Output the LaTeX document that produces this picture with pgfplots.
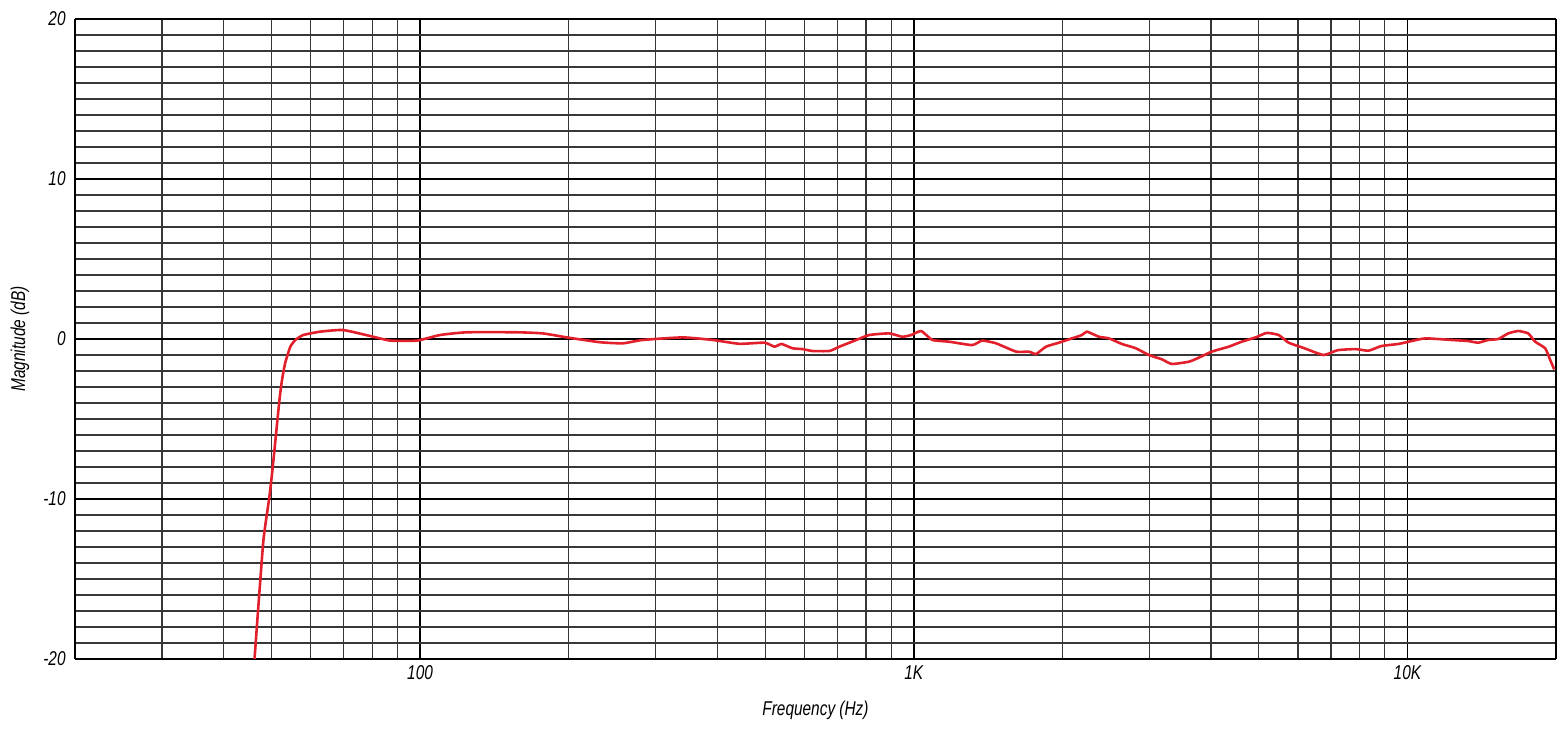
\documentclass[border=0pt]{standalone}
\usepackage{fontspec}
\setmainfont{Liberation Sans}[FakeStretch=0.77]
\usepackage{pgfplots}
\pgfplotsset{compat=1.18}
\definecolor{curvered}{RGB}{226,32,44}
\definecolor{minorgrid}{RGB}{55,55,55}

\pgfplotstableread{
f      db
46.2   -20
48.1   -12.75
49.5   -9.9
50.3   -8
51.9   -3.8
52.5   -2.6
53.3   -1.5
54.6   -0.48
55.9   -0.06
58.0   0.25
62.8   0.46
69.9   0.56
80.4   0.14
87.0   -0.1
98.6   -0.1
109.8  0.25
124.5  0.42
157.1  0.42
177.3  0.35
198.3  0.1
231.2  -0.2
257.4  -0.27
282.5  -0.06
340.3  0.1
391.3  -0.06
443.7  -0.3
498.5  -0.23
522.3  -0.48
539.7  -0.31
568.0  -0.58
595.0  -0.63
623.4  -0.75
674.8  -0.75
707.0  -0.48
765.1  -0.06
812.8  0.25
892.0  0.35
947.8  0.14
988.3  0.25
1035.6 0.5
1090   -0.06
1180   -0.17
1313   -0.38
1376   -0.1
1468   -0.27
1612   -0.79
1712   -0.79
1769   -0.94
1853   -0.48
1969   -0.23
2092   0.04
2191   0.25
2243   0.46
2372   0.14
2485   0.04
2640   -0.31
2818   -0.58
2994   -1.0
3181   -1.27
3333   -1.56
3607   -1.42
3779   -1.17
4014   -0.79
4345   -0.48
4616   -0.17
4927   0.1
5187   0.38
5484   0.25
5746   -0.23
6162   -0.56
6763   -1.0
7218   -0.7
7852   -0.63
8341   -0.73
8859   -0.44
9590   -0.31
10188  -0.13
10875  0.04
12274  -0.06
13288  -0.13
13918  -0.23
14582  -0.06
15276  0.0
16004  0.35
16768  0.5
17567  0.35
18148  -0.17
19017  -0.58
19466  -1.31
19834  -1.9
}\response

\begin{document}
\begin{tikzpicture}
\begin{axis}[
  scale only axis,
  width=740.5pt, height=320pt,
  xmode=log,
  xmin=20, xmax=20000,
  ymin=-20, ymax=20,
  axis x line*=bottom,
  axis y line*=left,
  x axis line style={-, line width=1.2pt},
  y axis line style={-, line width=1.2pt},
  xtick={100,1000,10000},
  xticklabels={100,1K,10K},
  minor xtick={30,40,50,60,70,80,90,200,300,400,500,600,700,800,900,2000,3000,4000,5000,6000,7000,8000,9000},
  extra x ticks={20000},
  extra x tick labels={},
  extra x tick style={grid=major},
  ytick={-20,-10,0,10,20},
  yticklabels={-20,-10,0,10,20},
  minor ytick={-19,-18,...,19},
  major tick length=0pt,
  minor tick length=0pt,
  grid=both,
  major grid style={black, line width=0.85pt},
  minor grid style={minorgrid, line width=0.6pt},
  tick label style={font=\fontsize{10}{12}\selectfont\itshape, inner sep=0pt},
  yticklabel style={anchor=east, xshift=-4.5pt},
  xticklabel style={anchor=north, yshift=-3pt},
  xlabel={Frequency (Hz)},
  ylabel={Magnitude (dB)},
  label style={font=\fontsize{10}{12}\selectfont\itshape},
  xlabel style={at={(axis description cs:0.5,-0.0797)}, anchor=center},
  ylabel style={at={(axis description cs:-0.0371,0.5)}, anchor=center},
  clip=true,
]
\addplot[curvered, line width=1.3pt, line join=round, smooth, tension=0.3] table[x=f, y=db] {\response};
\end{axis}
\pgfresetboundingbox
\useasboundingbox (-37.5pt,-34.5pt) rectangle (746.5pt,329.5pt);
\end{tikzpicture}
\end{document}
